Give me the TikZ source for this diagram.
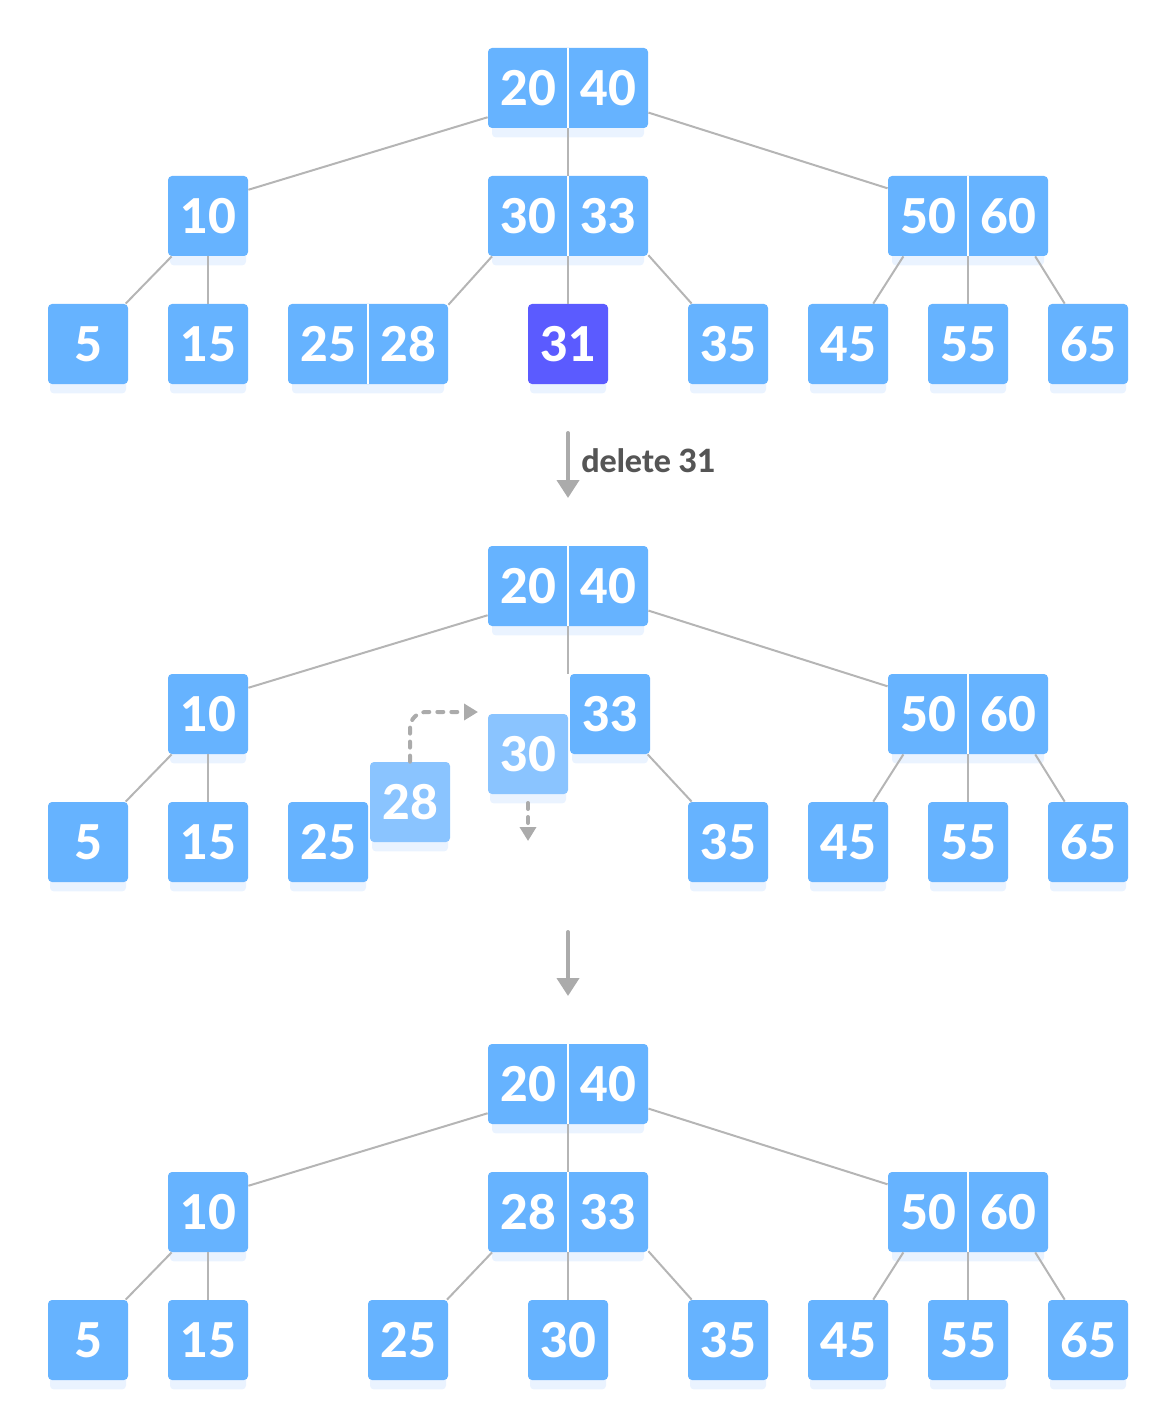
\documentclass[tikz,border=0pt]{standalone}
\usepackage{fontspec}
\setmainfont{Lato}
\newfontfamily\keyfont{Lato Heavy}
\usetikzlibrary{positioning, arrows.meta, shadows}

\definecolor{keyblue}{HTML}{66B3FF}
\definecolor{keylight}{HTML}{8AC4FF}
\definecolor{keydark}{HTML}{5B5BFF}
\definecolor{edgegray}{HTML}{B5B5B5}
\definecolor{arrowgray}{HTML}{ABABAB}
\definecolor{textgray}{HTML}{555555}
\definecolor{glow}{HTML}{EAF3FF}

% a node with two keys: name, x, y, left key, right key
\newcommand{\pairkey}[5]{%
    \node[pair] (#1) at (#2,#3) {};
    \node[digits] (#1-l) at ([xshift=-20pt]#1.center) {#4};
    \node[digits] (#1-r) at ([xshift=20pt]#1.center) {#5};
}

\begin{document}
\begin{tikzpicture}
[
    x=0.5pt, y=-0.5pt,
    % Nodes are named T-key, T is the tree (A, B, C) from top to bottom
    % and key is the first key stored in the node
]

%=================================== Start ===================================
\tikzstyle{key}    = [rectangle, rounded corners=2pt, fill=keyblue, minimum width=40pt,
                      minimum height=40pt, inner sep=0pt, text=white,
                      font=\keyfont\fontsize{24}{24}\selectfont,
                      drop shadow={shadow xshift=0pt, shadow yshift=-6pt, shadow scale=0.95,
                                   fill=glow, opacity=1}]
\tikzstyle{pair}   = [key, minimum width=80pt,
                      append after command={
                          (\tikzlastnode.north) edge[draw=white, line width=1pt] (\tikzlastnode.south)
                      }]
\tikzstyle{digits} = [inner sep=0pt, text=white, font=\keyfont\fontsize{24}{24}\selectfont]
\tikzstyle{link}   = [draw=edgegray, line width=1pt]
\tikzstyle{bigarrow} = [draw=arrowgray, line width=2pt, line cap=round,
                        -{Triangle[width=11pt, length=9pt]}]
\tikzstyle{moving} = [draw=arrowgray, line width=2pt, line cap=round, dash pattern=on 3pt off 4pt,
                      -{Triangle[width=8pt, length=7pt]}]

\useasboundingbox (0,0) rectangle (1176,1428);

%------------------------------- tree before ---------------------------------
\pairkey{A-20}{568}{88}{20}{40}
\node[key] (A-10) at (208,216) {10};
\pairkey{A-30}{568}{216}{30}{33}
\pairkey{A-50}{968}{216}{50}{60}
\foreach \x / \v in {88/5, 208/15, 728/35, 848/45, 968/55, 1088/65}
    \node[key] (A-\v) at (\x,344) {\v};
\pairkey{A-25}{368}{344}{25}{28}
\node[key, fill=keydark] (A-31) at (568,344) {31};

\path[link] (A-20.200) -- (A-10.33);
\path[link] (A-20.south) -- (A-30.north);
\path[link] (A-20.343) -- (A-50.161);
\path[link] (A-10.228) -- (A-5.47);
\path[link] (A-10.south) -- (A-15.north);
\path[link] (A-30.208) -- (A-25.26);
\path[link] (A-30.south) -- (A-31.north);
\path[link] (A-30.334) -- (A-35.132);
\path[link] (A-50.212) -- (A-45.58);
\path[link] (A-50.south) -- (A-55.north);
\path[link] (A-50.329) -- (A-65.120);

% first step
\coordinate (S-1-top) at (568,433);
\coordinate (S-1-end) at (568,498);
\path[bigarrow] (S-1-top) -- (S-1-end);
\node[anchor=west, inner sep=0pt, text=textgray, font=\keyfont\fontsize{16}{16}\selectfont]
     (S-1-text) at (581,461) {delete 31};

%------------------------------- tree during ---------------------------------
\pairkey{B-20}{568}{586}{20}{40}
\node[key] (B-10) at (208,714) {10};
\node[key] (B-33) at (610,714) {33};
\pairkey{B-50}{968}{714}{50}{60}
\foreach \x / \v in {88/5, 208/15, 328/25, 728/35, 848/45, 968/55, 1088/65}
    \node[key] (B-\v) at (\x,842) {\v};
\node[key, fill=keylight] (B-30) at (528,754) {30};
\node[key, fill=keylight] (B-28) at (410,802) {28};
\coordinate (B-gap) at (568,674);

\path[link] (B-20.200) -- (B-10.33);
\path[link] (B-20.south) -- (B-gap);
\path[link] (B-20.343) -- (B-50.161);
\path[link] (B-10.228) -- (B-5.47);
\path[link] (B-10.south) -- (B-15.north);
\path[link] (B-33.313) -- (B-35.132);
\path[link] (B-50.212) -- (B-45.58);
\path[link] (B-50.south) -- (B-55.north);
\path[link] (B-50.329) -- (B-65.120);

% 28 goes up, 30 goes down
\coordinate (B-28-to) at (478,712);
\coordinate (B-30-from) at (528,803);
\coordinate (B-30-to) at (528,841);
\path[moving, rounded corners=8pt] (B-28.north) |- (B-28-to);
\path[moving] (B-30-from) -- (B-30-to);

% second step
\coordinate (S-2-top) at (568,932);
\coordinate (S-2-end) at (568,996);
\path[bigarrow] (S-2-top) -- (S-2-end);

%-------------------------------- tree after ---------------------------------
\pairkey{C-20}{568}{1084}{20}{40}
\node[key] (C-10) at (208,1212) {10};
\pairkey{C-28}{568}{1212}{28}{33}
\pairkey{C-50}{968}{1212}{50}{60}
\foreach \x / \v in {88/5, 208/15, 408/25, 568/30, 728/35, 848/45, 968/55, 1088/65}
    \node[key] (C-\v) at (\x,1340) {\v};

\path[link] (C-20.200) -- (C-10.33);
\path[link] (C-20.south) -- (C-28.north);
\path[link] (C-20.343) -- (C-50.161);
\path[link] (C-10.228) -- (C-5.47);
\path[link] (C-10.south) -- (C-15.north);
\path[link] (C-28.208) -- (C-25.46);
\path[link] (C-28.south) -- (C-30.north);
\path[link] (C-28.334) -- (C-35.132);
\path[link] (C-50.212) -- (C-45.58);
\path[link] (C-50.south) -- (C-55.north);
\path[link] (C-50.329) -- (C-65.120);
%==================================== END ====================================

\end{tikzpicture}
\end{document}
